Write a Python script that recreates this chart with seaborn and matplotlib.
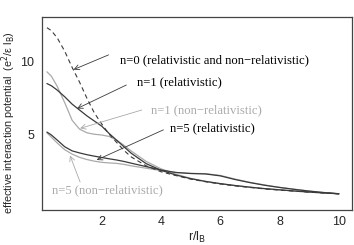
import pandas as pd
import matplotlib
matplotlib.use("Agg")
import matplotlib.pyplot as plt
import seaborn as sns

# Values
r = [0.15, 0.3, 0.5, 0.75, 1.0, 1.25, 1.5, 1.75, 2.0, 2.25, 2.5, 2.75, 3.0,
     3.5, 4.0, 4.5, 5.0, 5.5, 6.0, 6.5, 7.0, 7.5, 8.0, 8.5, 9.0, 9.5, 10.0]

n0 = [12.3, 12.1, 11.6, 10.7, 9.6, 8.6, 7.5, 6.5, 5.75, 5.05, 4.5, 3.95, 3.5,
      2.9, 2.5, 2.24, 2.0, 1.82, 1.67, 1.54, 1.43, 1.33, 1.25, 1.18, 1.11, 1.05, 1.0]
n1_rel = [8.5, 8.35, 8.05, 7.6, 7.1, 6.7, 6.3, 5.95, 5.6, 5.1, 4.65, 4.2, 3.75,
          3.05, 2.6, 2.28, 2.03, 1.84, 1.69, 1.56, 1.45, 1.35, 1.27, 1.19, 1.12, 1.06, 1.0]
n1_nonrel = [9.3, 9.0, 8.3, 7.2, 6.0, 5.4, 5.15, 5.05, 5.0, 4.9, 4.65, 4.3, 3.9,
             3.2, 2.7, 2.33, 2.05, 1.85, 1.69, 1.56, 1.45, 1.35, 1.27, 1.19, 1.12, 1.06, 1.0]
n5_rel = [5.2, 5.0, 4.65, 4.2, 3.92, 3.78, 3.66, 3.56, 3.47, 3.38, 3.3, 3.2, 3.08,
          2.85, 2.62, 2.45, 2.38, 2.35, 2.22, 1.97, 1.76, 1.58, 1.43, 1.3, 1.18, 1.08, 1.0]
n5_nonrel = [5.15, 4.85, 4.45, 4.0, 3.7, 3.48, 3.33, 3.22, 3.14, 3.1, 3.07, 3.0, 2.9,
             2.74, 2.58, 2.45, 2.39, 2.37, 2.25, 2.0, 1.78, 1.6, 1.44, 1.31, 1.19, 1.09, 1.01]

labels = ["n=0 (relativistic and non\u2212relativistic)", "n=1 (relativistic)",
          "n=1 (non\u2212relativistic)", "n=5 (relativistic)", "n=5 (non\u2212relativistic)"]

dark = "#3a3a3a"
light = "#aaaaaa"

sns.set_style("white")
plt.rcParams["font.family"] = ["Liberation Sans", "DejaVu Sans"]

fig = plt.figure(figsize=(3.54, 2.45), dpi=100)
ax = fig.add_axes([0.12, 0.143, 0.874, 0.789])

df = pd.DataFrame({"r": r, "n0": n0, "n1_rel": n1_rel, "n1_nonrel": n1_nonrel,
                   "n5_rel": n5_rel, "n5_nonrel": n5_nonrel})

sns.lineplot(data=df, x="r", y="n1_nonrel", color=light, lw=0.9, ax=ax)
sns.lineplot(data=df, x="r", y="n5_nonrel", color=light, lw=0.9, ax=ax)
sns.lineplot(data=df, x="r", y="n1_rel", color=dark, lw=0.9, ax=ax)
sns.lineplot(data=df, x="r", y="n5_rel", color=dark, lw=0.9, ax=ax)
sns.lineplot(data=df, x="r", y="n0", color=dark, lw=0.8, ax=ax,
             linestyle=(0, (4, 3)))

# labels with arrows (text position, arrow tip, arrow tail in data coords)
serif = ["Liberation Serif", "DejaVu Serif"]
notes = [
    (labels[0], (2.6, 10.1), (1.05, 9.45), (2.23, 10.45), "black", dark),
    (labels[1], (3.2, 8.6), (1.17, 6.8), (2.83, 8.4), "black", dark),
    (labels[2], (3.65, 6.7), (1.27, 5.45), (3.35, 6.7), light, light),
    (labels[3], (4.3, 5.45), (1.83, 3.3), (4.08, 5.35), "black", dark),
    (labels[4], (0.33, 1.25), (0.93, 3.6), (1.27, 1.8), light, light),
]
for txt, tpos, tip, tail, tcol, acol in notes:
    ax.text(tpos[0], tpos[1], txt, color=tcol, fontsize=9.1, family=serif,
            va="center", ha="left")
    ax.annotate("", xy=tip, xytext=tail,
                arrowprops=dict(arrowstyle="->,head_length=0.35,head_width=0.18",
                                color=acol, lw=0.6, shrinkA=0, shrinkB=0))

ax.set_xlim(0, 10.44)
ax.set_ylim(-0.1, 13.05)
ax.set_xticks([2, 4, 6, 8, 10])
ax.set_yticks([5, 10])
ax.tick_params(axis="x", direction="in", length=5, width=0.8, color="#555555",
               labelsize=9, pad=4)
ax.tick_params(axis="y", direction="out", length=4, width=0.8, color="#555555",
               labelsize=9, pad=2)
ax.set_xlabel("r/l$_\\mathrm{B}$", fontsize=9, labelpad=2)
ax.set_ylabel("effective interaction potential  (e$^2$/\u03b5 l$_\\mathrm{B}$)",
              fontsize=7.8)
ax.yaxis.set_label_coords(-0.08, 0.45)
for s in ax.spines.values():
    s.set_color("#444444")
    s.set_linewidth(0.9)

fig.savefig("out.png", dpi=100)
